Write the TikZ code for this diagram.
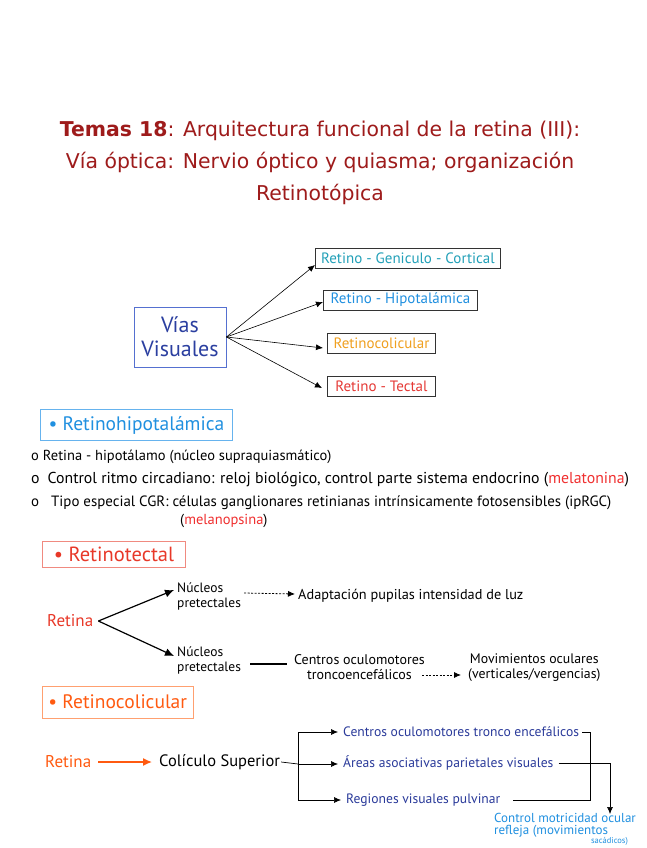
\documentclass[tikz,border=0pt]{standalone}
\usepackage{fontspec}
\setmainfont{PT Sans}
\newfontfamily\titlefont{DejaVu Sans}
\usetikzlibrary{arrows.meta,calc}
\definecolor{titlered}{HTML}{9E1B1B}
\definecolor{vbox}{HTML}{5570D0}
\definecolor{vtext}{HTML}{2B3FA0}
\definecolor{teal}{HTML}{22A0B8}
\definecolor{hblue}{HTML}{2090E0}
\definecolor{orangeY}{HTML}{F0A020}
\definecolor{redT}{HTML}{E53935}
\definecolor{lbox}{HTML}{66B3EE}
\definecolor{tbox}{HTML}{F08A80}
\definecolor{ttext}{HTML}{E83828}
\definecolor{cbox}{HTML}{FFA070}
\definecolor{ctext}{HTML}{FF5A10}
\definecolor{dblue}{HTML}{2A3A9A}
\definecolor{mred}{HTML}{F03030}
\begin{document}
\begin{tikzpicture}[x=1pt,y=-1pt,
  hw/.style={inner sep=0pt, anchor=west},
  rbox/.style={draw=black!80, line width=0.9pt, font=\fontsize{15}{16}\selectfont, minimum height=20pt, inner xsep=3pt, inner ysep=0pt, anchor=west},
  secbox/.style={line width=0.9pt, inner xsep=6pt, inner ysep=0pt, anchor=west},
  arr/.style={-{Latex[length=7pt,width=6pt]}, line width=0.6pt},
  barr/.style={-{Latex[length=9pt,width=8pt]}, line width=1.2pt},
  darr/.style={-{Latex[length=7pt,width=6pt]}, line width=0.8pt, dash pattern=on 2pt off 1.5pt},
  bl/.style={font=\fontsize{13.5}{15}\selectfont, inner sep=1pt, anchor=west, align=left}
]
\useasboundingbox (0,0) rectangle (646,848);
\fill[white] (0,0) rectangle (646,848);

% title
\node[text=titlered, font=\titlefont\fontsize{20.4}{32}\selectfont, align=center] (title) at (320,163)
  {\textbf{Temas 18}: Arquitectura funcional de la retina (III):\\ Vía óptica: Nervio óptico y quiasma; organización\\ Retinotópica};

% Vias visuales
\node[draw=vbox, line width=0.9pt, minimum width=92pt, minimum height=60pt, inner sep=0pt, text=vtext,
  font=\fontsize{22}{24}\selectfont, align=center] (vias) at (180,337) {Vías\\Visuales};
\node[rbox, text=teal, minimum width=185pt] (g) at (315,258) {Retino - Geniculo - Cortical};
\node[rbox, text=hblue, minimum width=154pt] (h) at (323,300) {Retino - Hipotalámica};
\node[rbox, text=orangeY, minimum width=108pt] (c) at (327,343) {Retinocolicular};
\node[rbox, text=redT, minimum width=108pt] (t) at (327,386) {Retino - Tectal};
\draw[arr] (vias.east) -- ($(g.west)+(0,7)$);
\draw[arr] (vias.east) -- ($(h.west)+(0,2)$);
\draw[arr] (vias.east) -- ($(c.west)+(-4,5)$);
\draw[arr] (vias.east) -- ($(t.west)+(-5,2)$);

% Retinohipotalamica
\node[secbox, draw=lbox, text=hblue, font=\fontsize{19.5}{20}\selectfont, minimum width=192pt, minimum height=31pt] (rh) at (40,425) {• Retinohipotalámica};
\node[hw, font=\fontsize{14.5}{15}\selectfont] (l1) at (31,457) {o\hspace{4pt}Retina - hipotálamo (núcleo supraquiasmático)};
\node[hw, font=\fontsize{15.8}{16}\selectfont] (l2) at (31,480) {o\hspace{8pt}Control ritmo circadiano: reloj biológico, control parte sistema endocrino (\textcolor{mred}{melatonina})};
\node[hw, font=\fontsize{14.9}{16}\selectfont] (l3) at (31,503) {o\hspace{12pt}Tipo especial CGR: células ganglionares retinianas intrínsicamente fotosensibles (ipRGC)};
\node[hw, font=\fontsize{14.5}{16}\selectfont] (l4) at (180,521) {(\textcolor{mred}{melanopsina})};

% Retinotectal
\node[secbox, draw=tbox, text=ttext, font=\fontsize{20.5}{21}\selectfont, minimum width=143pt, minimum height=26pt] (rt) at (42,554) {• Retinotectal};
\node[font=\fontsize{17}{18}\selectfont, text=ttext, inner sep=1pt, anchor=west] (ret1) at (46,621) {Retina};
\node[bl] (np1) at (176,596) {Núcleos\\pretectales};
\node[bl] (np2) at (176,660) {Núcleos\\pretectales};
\node[bl, font=\fontsize{14.3}{15}\selectfont] (adap) at (297,596) {Adaptación pupilas intensidad de luz};
\node[bl, align=center, font=\fontsize{14}{15}\selectfont] (cen) at (293,667) {Centros oculomotores\\troncoencefálicos};
\node[bl, align=center, font=\fontsize{13.8}{15}\selectfont] (mov) at (467,668) {Movimientos oculares\\(verticales/vergencias)};
\draw[barr] ($(ret1.east)+(4,0)$) -- ($(np1.west)+(-2,-6)$);
\draw[barr] ($(ret1.east)+(4,0)$) -- ($(np2.west)+(-2,-4)$);
\draw[darr] ($(np1.east)+(2,-3)$) -- ($(adap.west)+(-2,-2)$);
\draw[line width=1.2pt] ($(np2.east)+(8,4)$) -- ($(cen.west)+(-6,-3)$);
\draw[darr] ($(cen.east)+(-4,8)$) -- ($(mov.west)+(-6,7)$);

% Retinocolicular
\node[secbox, draw=cbox, text=ctext, font=\fontsize{19.5}{20}\selectfont, minimum width=148pt, minimum height=32pt] (rc) at (42,702) {• Retinocolicular};
\node[font=\fontsize{17}{18}\selectfont, text=ctext, inner sep=1pt, anchor=west] (ret2) at (44,762) {Retina};
\node[font=\fontsize{16.5}{18}\selectfont, inner sep=1pt, anchor=west] (cs) at (158,762) {Colículo Superior};
\draw[-{Latex[length=9pt,width=8pt]}, line width=1.4pt, draw=ctext, fill=ctext] ($(ret2.east)+(6,0)$) -- ($(cs.west)+(-6,0)$);
\node[bl, text=dblue, font=\fontsize{13.6}{15}\selectfont] (c1) at (342,732) {Centros oculomotores tronco encefálicos};
\node[bl, text=dblue, font=\fontsize{13.6}{15}\selectfont] (c2) at (342,763) {Áreas asociativas parietales visuales};
\node[bl, text=dblue, font=\fontsize{13.6}{15}\selectfont] (c3) at (345,800) {Regiones visuales pulvinar};
\coordinate (br) at (298,764);
\draw[line width=0.7pt] (cs.east) -- (br);
\draw[line width=0.7pt] (br |- c1.west) -- (br |- c3.west);
\draw[arr] (br |- c1.west) -- ($(c1.west)+(-4,0)$);
\draw[arr] (br) -- ($(c2.west)+(-4,1)$);
\draw[arr] (br |- c3.west) -- ($(c3.west)+(-4,0)$);
\coordinate (j1) at (590,0);
\draw[line width=0.7pt] ($(c1.east)+(2,0)$) -| (j1 |- c3.east) -- ($(c3.east)+(12,0)$);
\coordinate (dn) at (610,814);
\draw[arr] ($(c2.east)+(4,0)$) -| (dn);
\node[font=\fontsize{13}{12.5}\selectfont, text=hblue, inner sep=0pt, anchor=north west, align=left] (ctrl) at (494,813)
  {Control motricidad ocular\\refleja (movimientos};
\node[font=\fontsize{8.5}{9}\selectfont, text=hblue, inner sep=0pt, anchor=north east] (sac) at ($(ctrl.south east)+(-8,-0.5)$) {sacádicos)};
\end{tikzpicture}
\end{document}
